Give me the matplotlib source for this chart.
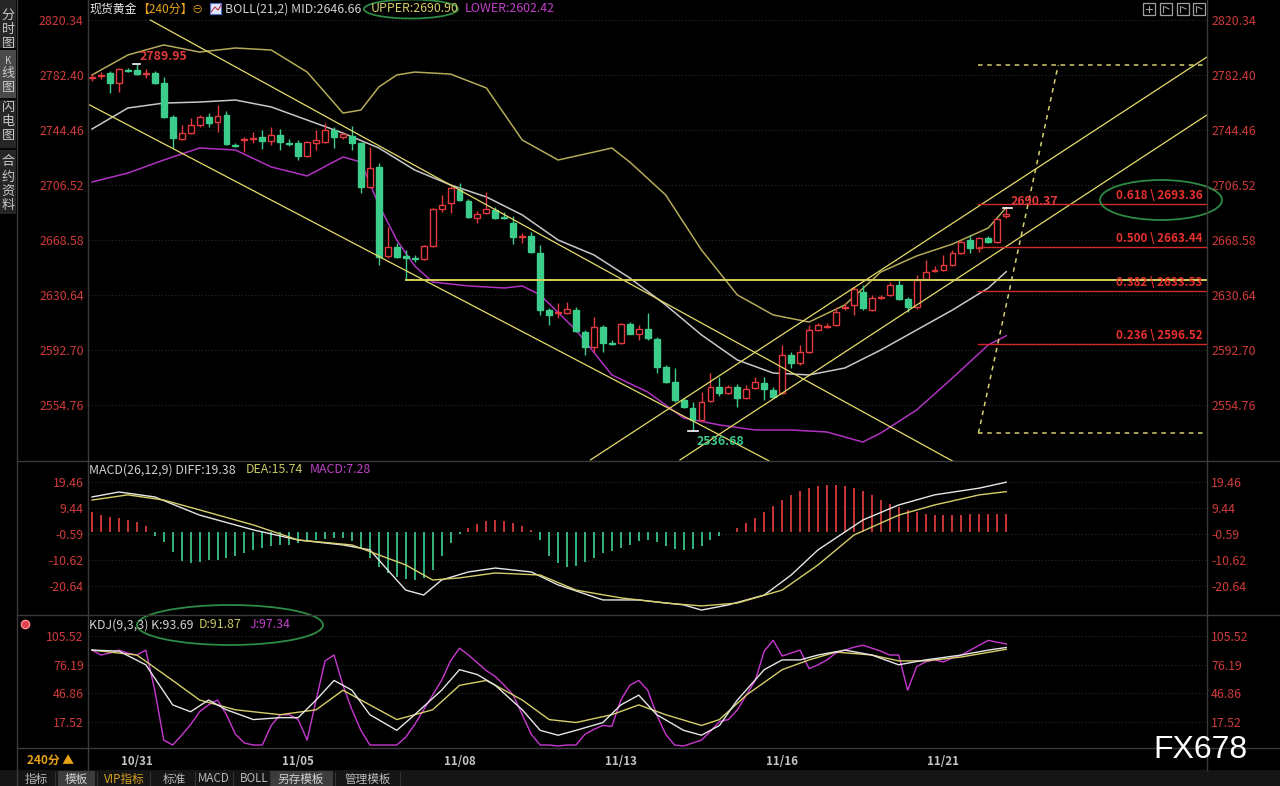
import matplotlib
matplotlib.use("Agg")
import matplotlib.pyplot as plt
from matplotlib.patches import Rectangle, Ellipse
from matplotlib.lines import Line2D

plt.rcParams['font.family'] = ['Noto Sans CJK SC', 'DejaVu Sans']

# ---------------- data ----------------
opens = [2780.3, 2781.7, 2783.7, 2776.8, 2785.8, 2785.8, 2783.0, 2783.7, 2776.8, 2753.4,
         2738.2, 2742.3, 2747.9, 2753.4, 2749.9, 2754.8, 2734.0, 2737.5, 2738.2, 2739.6,
         2736.8, 2741.0, 2735.4, 2735.4, 2726.5, 2735.4, 2736.1, 2744.4, 2739.6, 2740.3,
         2735.4, 2705.1, 2718.9, 2657.5, 2663.7, 2657.5, 2656.1, 2655.4, 2664.4, 2689.9,
         2694.0, 2703.0, 2695.4, 2683.7, 2687.1, 2689.2, 2684.4, 2680.2, 2670.6, 2671.3,
         2659.5, 2620.2, 2618.1, 2618.1, 2620.2, 2605.0, 2594.7, 2608.5, 2597.4, 2597.4,
         2610.5, 2603.6, 2607.1, 2600.2, 2580.9, 2570.5, 2558.1, 2552.6, 2544.3, 2557.4,
         2567.1, 2562.9, 2567.1, 2559.5, 2566.4, 2569.8, 2565.0, 2562.9, 2589.2, 2583.6,
         2591.2, 2606.4, 2608.5, 2609.9, 2621.6, 2623.7, 2632.6, 2620.2, 2628.5, 2630.6,
         2637.5, 2627.8, 2622.3, 2641.6, 2647.1, 2647.8, 2651.3, 2659.5, 2668.5, 2663.0,
         2669.9, 2667.1, 2685.1]
highs = [2783.0, 2784.4, 2785.1, 2787.2, 2787.2, 2789.95, 2786.5, 2785.1, 2781.0, 2754.8,
         2747.9, 2752.7, 2754.8, 2756.1, 2761.7, 2757.5, 2735.4, 2739.6, 2743.0, 2744.4,
         2746.5, 2745.1, 2738.2, 2737.5, 2736.8, 2744.4, 2749.2, 2746.5, 2742.3, 2747.2,
         2736.1, 2732.7, 2721.6, 2677.5, 2666.4, 2661.6, 2658.2, 2665.0, 2690.6, 2699.6,
         2705.8, 2707.8, 2696.8, 2688.5, 2701.6, 2691.3, 2687.8, 2685.1, 2673.3, 2674.0,
         2665.0, 2621.6, 2625.0, 2625.7, 2622.3, 2606.4, 2615.4, 2609.9, 2599.5, 2611.2,
         2611.9, 2609.9, 2618.1, 2601.6, 2582.3, 2580.2, 2559.5, 2556.7, 2563.6, 2576.7,
         2574.0, 2568.4, 2569.1, 2568.4, 2574.0, 2574.0, 2567.1, 2596.0, 2591.2, 2596.0,
         2609.9, 2611.2, 2611.2, 2622.3, 2625.0, 2636.1, 2637.5, 2630.6, 2630.6, 2639.5,
         2640.9, 2629.2, 2644.3, 2654.7, 2650.6, 2658.2, 2661.6, 2668.5, 2671.9, 2670.6,
         2671.3, 2683.7, 2690.37]
lows = [2778.2, 2779.6, 2769.9, 2770.6, 2784.4, 2782.4, 2780.3, 2776.1, 2752.7, 2732.0,
        2737.5, 2741.6, 2746.5, 2746.5, 2743.0, 2734.0, 2732.7, 2729.2, 2735.4, 2731.3,
        2734.0, 2730.6, 2733.4, 2723.7, 2725.8, 2730.6, 2735.4, 2732.0, 2738.2, 2730.6,
        2700.9, 2704.4, 2651.3, 2656.1, 2656.1, 2640.9, 2653.3, 2654.7, 2663.7, 2687.8,
        2687.1, 2695.4, 2683.7, 2680.2, 2686.4, 2683.0, 2683.0, 2665.7, 2666.4, 2659.5,
        2616.8, 2609.9, 2614.7, 2617.4, 2605.0, 2589.2, 2591.2, 2591.2, 2596.1, 2596.7,
        2603.6, 2599.5, 2599.5, 2576.7, 2569.8, 2556.7, 2552.6, 2536.68, 2543.6, 2556.7,
        2560.9, 2562.2, 2553.3, 2558.8, 2565.7, 2558.1, 2559.5, 2562.2, 2580.2, 2582.3,
        2590.5, 2605.7, 2607.8, 2609.2, 2620.2, 2616.8, 2620.2, 2619.5, 2627.8, 2629.9,
        2627.1, 2618.8, 2620.9, 2640.9, 2646.4, 2647.1, 2650.6, 2658.8, 2659.5, 2660.2,
        2666.4, 2666.4, 2683.7]
closes = [2781.0, 2782.4, 2776.8, 2786.5, 2785.1, 2783.0, 2783.7, 2776.8, 2753.4, 2738.9,
          2742.3, 2747.9, 2753.4, 2749.2, 2754.1, 2734.7, 2733.4, 2738.2, 2738.9, 2736.8,
          2741.0, 2736.1, 2734.7, 2726.5, 2736.1, 2737.5, 2744.4, 2739.6, 2741.6, 2735.4,
          2705.1, 2718.2, 2656.8, 2663.7, 2656.8, 2656.1, 2655.4, 2664.4, 2689.9, 2692.7,
          2704.4, 2696.1, 2684.4, 2686.4, 2689.9, 2683.7, 2683.7, 2670.6, 2671.3, 2660.2,
          2620.2, 2616.8, 2618.8, 2620.9, 2605.7, 2594.7, 2608.5, 2597.4, 2596.7, 2610.5,
          2603.6, 2607.1, 2600.9, 2580.9, 2570.5, 2558.1, 2553.3, 2544.3, 2556.7, 2567.1,
          2562.9, 2567.1, 2559.5, 2565.7, 2570.5, 2565.7, 2560.2, 2589.2, 2583.6, 2591.2,
          2606.4, 2609.9, 2609.2, 2618.8, 2622.3, 2634.7, 2621.6, 2628.5, 2629.2, 2637.5,
          2627.8, 2622.3, 2640.9, 2646.4, 2647.8, 2651.3, 2659.5, 2667.1, 2663.0, 2669.9,
          2667.1, 2683.0, 2686.4]

# Bollinger band (21,2) read at sample bars
boll_up_idx = [0, 4, 8, 12, 16, 20, 24, 28, 30, 32, 34, 36, 40, 44, 48, 52, 56, 58, 60, 64,
               68, 72, 76, 80, 84, 88, 92, 96, 100, 102]
boll_up = [2782.4, 2796.2, 2803.1, 2798.2, 2801.0, 2799.6, 2784.4, 2756.1, 2758.2, 2774.1,
           2782.4, 2784.4, 2783.0, 2773.4, 2737.5, 2723.7, 2729.2, 2732.0, 2722.3, 2699.6,
           2661.6, 2630.6, 2616.8, 2611.9, 2623.7, 2646.4, 2657.5, 2665.7, 2676.8, 2690.90]
boll_mid_idx = [0, 4, 8, 12, 16, 20, 24, 28, 32, 36, 40, 44, 48, 52, 56, 60, 64, 68, 72, 76,
                80, 84, 88, 92, 96, 100, 102]
boll_mid = [2745.1, 2759.6, 2763.0, 2763.7, 2765.1, 2760.3, 2751.3, 2742.3, 2732.0, 2716.8,
            2706.5, 2698.2, 2685.8, 2668.5, 2658.2, 2642.3, 2623.7, 2603.0, 2585.7, 2576.7,
            2575.4, 2580.2, 2592.6, 2606.4, 2620.2, 2635.4, 2646.66]
boll_low_idx = [0, 4, 8, 12, 16, 20, 24, 28, 30, 32, 34, 36, 38, 42, 46, 48, 50, 54, 58, 62,
                66, 70, 74, 78, 82, 86, 88, 92, 96, 100, 102]
boll_low = [2708.5, 2714.7, 2723.7, 2732.0, 2730.6, 2718.9, 2712.7, 2725.8, 2722.3, 2692.7,
            2668.5, 2650.6, 2639.5, 2636.8, 2635.4, 2636.8, 2630.6, 2606.4, 2575.4, 2563.6,
            2545.7, 2540.9, 2537.4, 2537.4, 2536.0, 2529.1, 2535.3, 2551.2, 2573.3, 2596.1,
            2602.42]

# MACD(26,12,9)
macd_hist = [7.9, 6.7, 6.0, 5.6, 4.8, 4.0, 2.5, -1.5, -3.7, -7.5,
             -11.0, -11.8, -11.4, -10.6, -10.6, -9.8, -9.1, -7.9, -6.7, -6.0,
             -5.2, -4.8, -4.8, -4.0, -3.3, -2.9, -2.5, -2.1, -2.1, -3.3,
             -6.4, -9.8, -13.3, -15.6, -17.1, -17.9, -18.3, -17.5, -14.5, -9.1,
             -4.0, -0.6, 1.7, 3.3, 4.4, 4.8, 4.4, 3.7, 2.5, 1.0,
             -2.9, -9.1, -11.8, -13.3, -12.9, -11.4, -9.8, -7.9, -7.1, -6.0,
             -4.8, -3.3, -2.9, -3.7, -5.2, -6.4, -6.7, -6.4, -5.2, -2.9,
             -1.3, 0.2, 1.7, 3.7, 5.6, 7.9, 10.2, 12.5, 14.5, 16.0,
             17.1, 17.9, 18.3, 18.3, 17.9, 17.1, 16.0, 14.5, 12.5, 11.0,
             9.8, 8.7, 7.9, 7.1, 6.7, 6.7, 6.7, 6.7, 7.1, 7.1,
             7.1, 7.1, 7.28]
diff_idx = [0, 3, 7, 12, 18, 23, 28, 31, 33, 35, 37, 39, 42, 45, 49, 52, 57, 61, 66, 68,
            71, 75, 78, 81, 86, 90, 94, 99, 102]
diff_vals = [13.7, 15.6, 13.7, 6.7, 1.0, -2.9, -4.8, -6.7, -14.5, -22.2, -24.1, -18.3, -15.2,
             -13.7, -15.2, -20.2, -26.0, -26.0, -27.9, -29.9, -27.9, -24.1, -16.4, -6.7, 4.8,
             10.6, 14.5, 17.1, 19.38]
dea_idx = [0, 4, 8, 12, 18, 23, 29, 35, 38, 41, 45, 50, 54, 59, 64, 68, 72, 77, 81, 85, 90,
           94, 99, 102]
dea_vals = [12.5, 14.5, 12.5, 8.7, 2.9, -2.9, -4.8, -12.5, -18.3, -17.5, -15.6, -16.4, -22.2,
            -25.2, -27.2, -28.3, -27.2, -22.2, -12.5, -1.0, 6.7, 10.6, 14.5, 15.74]

# KDJ(9,3,3)
j_vals = [91, 86, 88, 91, 88, 86, 91, 50, -1, -6, 4, 15, 28, 35, 40, 25, 5, -4, -6, -6,
          14, 25, 25, 20, -1, 40, 80, 86, 55, 30, 9, -6, -6, -6, -6, 2, 15, 30, 45, 60,
          80, 93, 86, 78, 70, 64, 55, 45, 25, 5, -6, -6, -7, -6, -6, 5, 10, 14, 13, 40,
          55, 60, 50, 25, 5, -6, -7, -4, -1, 8, 18, 20, 30, 45, 60, 90, 101, 85, 88, 91,
          72, 76, 81, 88, 91, 94, 96, 93, 90, 86, 86, 50, 74, 79, 81, 79, 83, 86, 91, 96,
          101, 99, 97.34]
k_idx = [0, 3, 6, 9, 11, 13, 15, 18, 21, 23, 25, 27, 29, 31, 34, 36, 39, 41, 43, 45, 48, 50,
         52, 54, 57, 59, 61, 63, 66, 68, 70, 72, 75, 77, 79, 81, 84, 87, 90, 93, 97, 100, 102]
k_vals = [91, 90, 76, 35, 28, 40, 30, 20, 22, 22, 40, 60, 50, 25, 9, 25, 50, 71, 66, 55, 30, 9,
          4, 9, 17, 35, 45, 25, 9, 4, 14, 40, 71, 81, 81, 86, 91, 86, 76, 81, 86, 91, 93.69]
d_idx = [0, 5, 9, 12, 16, 21, 25, 28, 31, 34, 38, 41, 44, 48, 51, 54, 58, 61, 64, 68, 70, 73,
         77, 80, 83, 87, 90, 93, 97, 102]
d_vals = [91, 86, 60, 40, 30, 25, 30, 50, 35, 20, 30, 55, 60, 40, 20, 17, 25, 35, 25, 14, 20,
          45, 71, 81, 89, 86, 80, 80, 84, 91.87]

price_ticks = [2820.34, 2782.40, 2744.46, 2706.52, 2668.58, 2630.64, 2592.70, 2554.76]
macd_ticks = [19.46, 9.44, -0.59, -10.62, -20.64]
kdj_ticks = [105.52, 76.19, 46.86, 17.52]
date_idx = [5, 23, 41, 59, 77, 95]
date_labels = ['10/31', '11/05', '11/08', '11/13', '11/16', '11/21']

fib_levels = [0.618, 0.500, 0.382, 0.236]
fib_prices = [2693.36, 2663.44, 2633.53, 2596.52]

# ---------------- figure ----------------
W, H = 1280, 786
fig = plt.figure(figsize=(W / 100, H / 100), dpi=100, facecolor='black')

RED = '#e23a3e'
GREEN = '#3ccc8c'
AXRED = '#cf3a3a'
YEL = '#e6dc6a'
FS = 8.9
XMIN, XMAX = -0.45, 124.4


def px_axes(x0, y0, x1, y1):
    return fig.add_axes([x0 / W, 1 - y1 / H, (x1 - x0) / W, (y1 - y0) / H])


def frect(x0, y0, x1, y1, **kw):
    fig.add_artist(Rectangle((x0 / W, 1 - y1 / H), (x1 - x0) / W, (y1 - y0) / H,
                             transform=fig.transFigure, **kw))


def ftext(x, y, s, **kw):
    kw.setdefault('va', 'center')
    kw.setdefault('fontsize', FS)
    return fig.text(x / W, 1 - y / H, s, **kw)


def fline(xs, ys, **kw):
    fig.add_artist(Line2D([x / W for x in xs], [1 - y / H for y in ys],
                          transform=fig.transFigure, **kw))


def style(ax, ticks, labels, ylim):
    ax.set_facecolor('black')
    ax.set_xlim(XMIN, XMAX)
    ax.set_ylim(*ylim)
    ax.set_yticks(ticks)
    ax.set_yticklabels(labels)
    ax.tick_params(axis='y', length=0, pad=3.0, labelsize=FS, labelcolor=AXRED,
                   labelleft=True, labelright=True)
    ax.tick_params(axis='x', length=0, labelbottom=False)
    for s in ax.spines.values():
        s.set_visible(False)
    ax.grid(axis='y', color='#2a2a2a', linestyle=(0, (1, 2)), linewidth=0.8)
    ax.set_axisbelow(True)


ax = px_axes(88, 18, 1207, 461)
axm = px_axes(88, 461, 1207, 615)
axk = px_axes(88, 615, 1207, 748)
style(ax, price_ticks, ['%.2f' % t for t in price_ticks], (2516.0, 2821.7))
style(axm, macd_ticks, ['%.2f' % t for t in macd_ticks], (-31.8, 27.55))
style(axk, kdj_ticks, ['%.2f' % t for t in kdj_ticks], (-9.05, 126.9))

# ---- candles ----
n = len(closes)
xs = list(range(n))
for i in xs:
    o, h, l, c = opens[i], highs[i], lows[i], closes[i]
    up = c >= o
    col = RED if up else GREEN
    ax.vlines(i, l, h, color=col, linewidth=1.0, zorder=3)
    body = max(abs(c - o), 0.7)
    bottom = min(o, c) if abs(c - o) >= 0.7 else (o + c) / 2 - 0.35
    ax.add_patch(Rectangle((i - 0.33, bottom), 0.66, body,
                           facecolor='black' if up else GREEN, edgecolor=col,
                           linewidth=1.0, zorder=4))

# ---- Bollinger ----
ax.plot(boll_up_idx, boll_up, color='#b4aa58', linewidth=1.1, zorder=2)
ax.plot(boll_mid_idx, boll_mid, color='#c8c8c8', linewidth=1.1, zorder=2)
ax.plot(boll_low_idx, boll_low, color='#b032c0', linewidth=1.1, zorder=2)

# ---- drawn channel lines ----
ax.plot([6.5, 98.0], [2820.3, 2509.2], color=YEL, linewidth=0.9, zorder=5)
ax.plot([-0.45, 75.5], [2762.3, 2516.2], color=YEL, linewidth=0.9, zorder=5)
ax.plot([55.6, 124.4], [2516.7, 2794.8], color=YEL, linewidth=0.9, zorder=5)
ax.plot([65.6, 124.4], [2516.7, 2754.8], color=YEL, linewidth=0.9, zorder=5)
ax.plot([35, 124.4], [lows[35], lows[35]], color='#d8d05a', linewidth=1.4, zorder=5)

# ---- Fibonacci projection ----
for lev, pr in zip(fib_levels, fib_prices):
    ax.plot([98.8, 124.4], [pr, pr], color='#d42a2a', linewidth=1.0, zorder=5)
    ax.text(123.9, pr + 1.4, '%.3f \\ %.2f' % (lev, pr), color='#e8302c', fontsize=8.4,
            fontweight='bold', ha='right', va='bottom', zorder=6)
ax.plot([98.8, 124.4], [2789.3, 2789.3], color='#d8d070', linewidth=1.1,
        linestyle=(0, (3, 3)), zorder=5)
ax.plot([98.8, 124.4], [2535.3, 2535.3], color='#d8d070', linewidth=1.1,
        linestyle=(0, (3, 3)), zorder=5)
ax.plot([98.9, 107.8], [2535.3, 2789.3], color='#d8d070', linewidth=1.1,
        linestyle=(0, (3, 3)), zorder=5)

# ---- extreme labels ----
ax.annotate('2789.95', xy=(5, highs[5]), xytext=(3, 8), textcoords='offset pixels',
            color='#e03a3a', fontsize=FS, fontweight='bold', ha='left', va='center', zorder=7)
ax.plot([4.6, 5.4], [highs[5], highs[5]], color='white', linewidth=1.2, zorder=7)
ax.annotate('2536.68', xy=(67, lows[67]), xytext=(4, -10), textcoords='offset pixels',
            color='#3cc88c', fontsize=FS, fontweight='bold', ha='left', va='center', zorder=7)
ax.plot([66.5, 67.6], [lows[67], lows[67]], color='white', linewidth=1.2, zorder=7)
ax.annotate('2690.37', xy=(102, highs[102]), xytext=(4, 7), textcoords='offset pixels',
            color='#e03a3a', fontsize=FS, fontweight='bold', ha='left', va='center', zorder=7)
ax.plot([101.6, 102.6], [highs[102], highs[102]], color='white', linewidth=1.2, zorder=7)

# ---- MACD panel ----
for i, v in enumerate(macd_hist):
    axm.vlines(i, 0, v, color='#d83a3a' if v >= 0 else '#36c486', linewidth=1.3)
axm.plot(diff_idx, diff_vals, color='#e6e6e6', linewidth=1.0)
axm.plot(dea_idx, dea_vals, color='#d6ce6a', linewidth=1.0)

# ---- KDJ panel ----
axk.plot(xs, j_vals, color='#c838d0', linewidth=1.0)
axk.plot(d_idx, d_vals, color='#d6ce6a', linewidth=1.0)
axk.plot(k_idx, k_vals, color='#e6e6e6', linewidth=1.0)
axk.set_xticks(date_idx)
axk.set_xticklabels(date_labels)
axk.tick_params(axis='x', length=0, pad=5, labelbottom=True, labelsize=8.3,
                labelcolor='#c4c4c4')
for t in axk.get_xticklabels():
    t.set_fontweight('bold')

# ---- frame lines ----
for yy in (461, 615, 748):
    fline([17, 1280], [yy, yy], color='#3a3a3a', linewidth=1.0)
fline([88, 88], [0, 770], color='#3a3a3a', linewidth=1.0)
fline([1207, 1207], [0, 770], color='#3a3a3a', linewidth=1.0)
fline([17, 17], [0, 786], color='#3a3a3a', linewidth=1.0)

# ---- left sidebar ----
frect(0, 0, 16, 214, facecolor='#262626', edgecolor='none')
frect(0, 50, 16, 98, facecolor='#4a4a4a', edgecolor='none')
for yy in (49, 99, 149):
    fline([0, 16], [yy, yy], color='black', linewidth=1.2)
side = [('分', 15), ('时', 29), ('图', 43), ('K', 61), ('线', 74), ('图', 87),
        ('闪', 108), ('电', 122), ('图', 136), ('合', 162), ('约', 177), ('资', 192), ('料', 206)]
for ch, yy in side:
    ftext(8, yy, ch, ha='center', fontsize=9.4 if ch != 'K' else 7, color='#c8c8c8')

# ---- headers ----
ftext(89, 9, '现货黄金', color='#e8e8e8', fontsize=8.6)
ftext(137, 9, '【240分】', color='#e8a317', fontsize=8.6)
ftext(192, 9, '⊖', color='#e8a317', fontsize=8)
frect(210, 3, 221, 14, facecolor='#dfe6ff', edgecolor='#5070d0', linewidth=0.8)
fline([211, 215, 218, 221], [12, 7, 10, 5], color='#c03040', linewidth=0.8)
ftext(225, 9, 'BOLL(21,2) MID:2646.66', color='#d0d0d0')
ftext(371, 9, 'UPPER:2690.90', color='#d6cc66')
ftext(465, 9, 'LOWER:2602.42', color='#c040c8')

ftext(89, 470, 'MACD(26,12,9) DIFF:19.38', color='#d0d0d0')
ftext(246, 470, 'DEA:15.74', color='#c8c864')
ftext(310, 470, 'MACD:7.28', color='#c040c8')

ftext(89, 625, 'KDJ(9,3,3) K:93.69', color='#d0d0d0')
ftext(199, 625, 'D:91.87', color='#c8c864')
ftext(250, 625, 'J:97.34', color='#c040c8')
fig.add_artist(Line2D([25 / W], [1 - 624 / H], marker='o', markersize=6,
                      markerfacecolor='#e04050', markeredgecolor='#ff9090',
                      transform=fig.transFigure))

# green ellipses
for cx, cy, ew, eh in [(411, 9, 94, 19), (1161, 200, 122, 40), (230, 625, 186, 40)]:
    fig.add_artist(Ellipse((cx / W, 1 - cy / H), ew / W, eh / H, transform=fig.transFigure,
                           fill=False, edgecolor='#2e8a44', linewidth=1.3))

# top-right icons
for x0 in (1143, 1160, 1177, 1193):
    frect(x0, 3, x0 + 12, 15, facecolor='black', edgecolor='#a0a0a0', linewidth=0.9)
fline([1146, 1152], [9, 9], color='#a0a0a0', linewidth=0.8)
fline([1149, 1149], [6, 12], color='#a0a0a0', linewidth=0.8)
for x0 in (1160, 1177, 1193):
    fline([x0 + 3, x0 + 3], [6, 12], color='#a0a0a0', linewidth=0.8)
    fline([x0 + 5, x0 + 9], [7, 9], color='#a0a0a0', linewidth=0.8)

# x-axis corner label
ftext(27, 760, '240分 ▲', color='#e8a317', fontsize=8.5, fontweight='bold')

# bottom toolbar
frect(0, 770, 1280, 786, facecolor='#151515', edgecolor='none')
frect(58, 771, 95, 786, facecolor='#3c3c3c', edgecolor='none')
frect(270, 771, 333, 786, facecolor='#3c3c3c', edgecolor='none')
tabs = [('指标', 36, '#b8b8b8'), ('模板', 76, '#d0d0d0'), ('VIP指标', 124, '#d4a020'),
        ('标准', 174, '#b8b8b8'), ('MACD', 214, '#b8b8b8'), ('BOLL', 254, '#b8b8b8'),
        ('另存模板', 301, '#d0d0d0'), ('管理模板', 368, '#b8b8b8')]
for s, cx, c in tabs:
    ftext(cx, 779, s, color=c, ha='center', fontsize=8.4)
for xx in (55, 97, 150, 195, 233, 270, 335, 400):
    fline([xx, xx], [772, 786], color='#333333', linewidth=0.8)

# watermark
ftext(1200, 750, 'FX678', color='white', ha='center', fontsize=23, family='Liberation Sans')

fig.savefig('out.png', dpi=100, facecolor='black')
